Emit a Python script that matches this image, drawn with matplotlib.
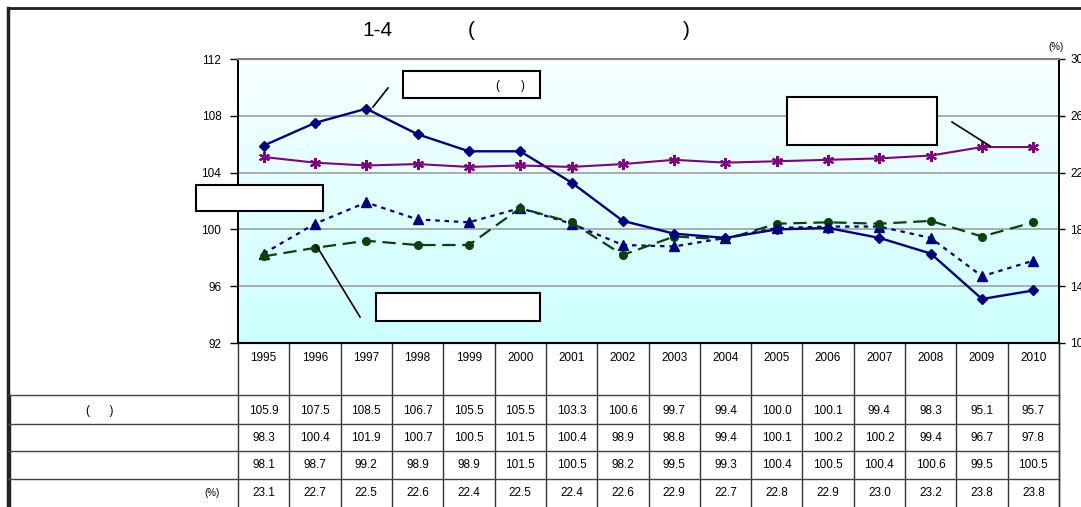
import numpy as np
import matplotlib
matplotlib.use("Agg")
import matplotlib.pyplot as plt
from matplotlib.patches import Rectangle

plt.rcParams['font.family'] = ['Liberation Sans', 'DejaVu Sans']

# ---------------- data ----------------
years = ["1995", "1996", "1997", "1998", "1999", "2000", "2001", "2002",
         "2003", "2004", "2005", "2006", "2007", "2008", "2009", "2010"]
series_a = [105.9, 107.5, 108.5, 106.7, 105.5, 105.5, 103.3, 100.6,
            99.7, 99.4, 100.0, 100.1, 99.4, 98.3, 95.1, 95.7]
series_b = [98.3, 100.4, 101.9, 100.7, 100.5, 101.5, 100.4, 98.9,
            98.8, 99.4, 100.1, 100.2, 100.2, 99.4, 96.7, 97.8]
series_c = [98.1, 98.7, 99.2, 98.9, 98.9, 101.5, 100.5, 98.2,
            99.5, 99.3, 100.4, 100.5, 100.4, 100.6, 99.5, 100.5]
series_pct = [23.1, 22.7, 22.5, 22.6, 22.4, 22.5, 22.4, 22.6,
              22.9, 22.7, 22.8, 22.9, 23.0, 23.2, 23.8, 23.8]
row_labels = ["(      )", "", "", "(%)"]
left_ticks = [92, 96, 100, 104, 108, 112]
right_ticks = [10, 14, 18, 22, 26, 30]

W, H = 1081, 507
fig = plt.figure(figsize=(W / 100, H / 100), dpi=100)
fig.patch.set_facecolor('white')

# main axes in pixel layout
L, R, T, B = 238, 1059, 59, 343
ax = fig.add_axes([L / W, (H - B) / H, (R - L) / W, (B - T) / H])
x = np.arange(len(years))
ax.set_xlim(-0.5, len(years) - 0.5)
ax.set_ylim(92, 112)
ax.set_yticks(left_ticks)
ax.set_xticks([])

# gradient background
grad = np.linspace(0, 1, 256).reshape(-1, 1)
top_c = np.array([0.97, 1.0, 1.0])
bot_c = np.array([0.80, 1.0, 1.0])
img = top_c + (bot_c - top_c) * grad[:, :, None] * np.ones((1, 1, 3))
ax.imshow(img.reshape(256, 1, 3), extent=[-0.5, len(years) - 0.5, 92, 112],
          aspect='auto', origin='upper', zorder=0)

for yv in left_ticks[1:-1]:
    ax.axhline(yv, color='#a6a6a6', lw=1.3, zorder=1)

navy = '#000080'
ax.plot(x, series_a, color=navy, lw=1.7, marker='D', ms=5.5, zorder=5)
ax.plot(x, series_b, color=navy, lw=1.6, ls=(0, (2, 2.2)), marker='^', ms=6.5, zorder=4)
ax.plot(x, series_c, color='#0a430a', lw=1.6, ls=(0, (6, 3)), marker='o', ms=5.5, zorder=4)

ax2 = ax.twinx()
ax2.set_ylim(10, 30)
ax2.set_yticks(right_ticks)
ax2.plot(x, series_pct, color='#800080', lw=1.5, marker=(6, 2, 0), ms=8, mew=1.5, zorder=5)

for a in (ax, ax2):
    a.spines['top'].set_color('#808080')
    a.spines['top'].set_linewidth(1.5)
    a.spines['left'].set_linewidth(1.3)
    a.spines['right'].set_linewidth(1.3)
    a.spines['bottom'].set_linewidth(1.5)
ax.tick_params(axis='y', direction='out', length=6, width=1, labelsize=8.5, pad=6)
ax2.tick_params(axis='y', direction='out', length=4, width=1, labelsize=8.5, pad=4)
ax.set_zorder(1)
ax2.set_zorder(2)
ax2.patch.set_visible(False)

# ---------------- table ----------------
xt = ax.get_xaxis_transform()
def fy(py):
    return (B - py) / (B - T)

row_lines = [395, 424, 451, 479, 507]
row_centers = [411, 438, 465, 493]
for i in range(len(years) + 1):
    ax.plot([i - 0.5, i - 0.5], [fy(B), fy(507)], transform=xt, color='#333333',
            lw=1.0, clip_on=False, zorder=3)
for i, yr in enumerate(years):
    ax.text(i, fy(358), yr, transform=xt, ha='center', va='center', fontsize=8.5,
            clip_on=False)
rows = [series_a, series_b, series_c, series_pct]
for r, vals in enumerate(rows):
    for i, v in enumerate(vals):
        ax.text(i, fy(row_centers[r]), f"{v:.1f}", transform=xt, ha='center',
                va='center', fontsize=8.5, clip_on=False)

# overlay in pixel coordinates for frame, labels, boxes
ov = fig.add_axes([0, 0, 1, 1], zorder=10)
ov.set_xlim(0, W)
ov.set_ylim(H, 0)
ov.axis('off')
ov.patch.set_visible(False)

# outer frame
ov.plot([8, 8], [8, H], color='#222222', lw=2.5)
ov.plot([8, W], [8, 8], color='#222222', lw=2.0)
ov.plot([10, 10], [395, H], color='#222222', lw=1.0)
for yl in row_lines[:-1]:
    ov.plot([8, R], [yl, yl], color='#444444', lw=1.0)
ov.plot([R, R], [B, H], color='#333333', lw=1.0)

ov.text(220, row_centers[3], "(%)", ha='right', va='center', fontsize=7)
ov.text(100, row_centers[0], row_labels[0], ha='center', va='center', fontsize=8.5)

# title
ov.text(377, 30, "1-4", ha='center', va='center', fontsize=15)
ov.text(471, 30, "(", ha='center', va='center', fontsize=15)
ov.text(686, 30, ")", ha='center', va='center', fontsize=15)
ov.text(1056, 47, "(%)", ha='center', va='center', fontsize=7)

# label boxes
boxes = [(403, 71, 137, 27), (787, 97, 150, 48), (196, 185, 127, 26), (376, 293, 164, 28)]
for bx, by, bw, bh in boxes:
    ov.add_patch(Rectangle((bx, by), bw, bh, facecolor='white', edgecolor='black', lw=1.5))
ov.text(497, 86, "(", ha='center', va='center', fontsize=8.5)
ov.text(523, 86, ")", ha='center', va='center', fontsize=8.5)

# leader lines
ov.plot([388, 373], [88, 107], color='black', lw=1.2)
ov.plot([952, 990], [122, 146], color='black', lw=1.2)
ov.plot([360, 316], [317, 245], color='black', lw=1.2)

fig.savefig("out.png", dpi=100)
